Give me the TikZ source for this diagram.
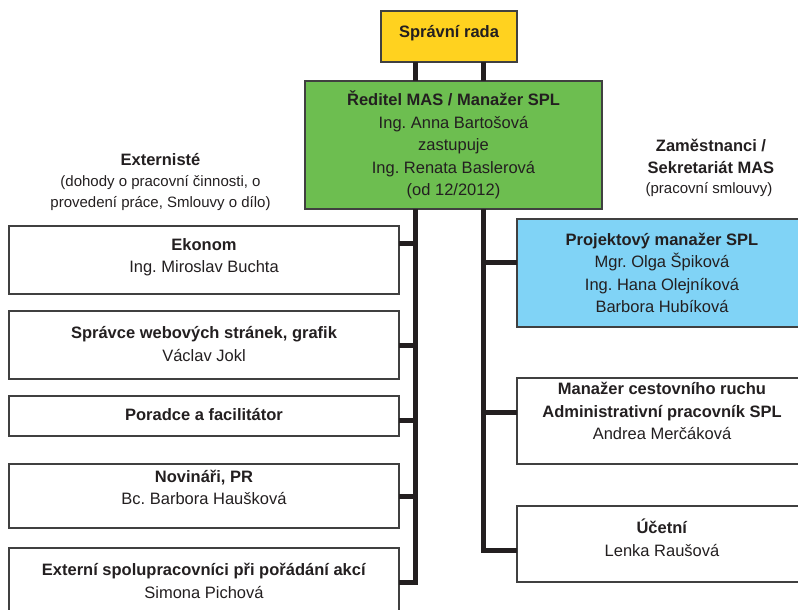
\documentclass[tikz,border=0pt]{standalone}
\usepackage{fontspec}
\setmainfont{Liberation Sans}
\frenchspacing
\definecolor{ink}{HTML}{231F20}
\definecolor{yel}{HTML}{FFD21F}
\definecolor{grn}{HTML}{6DBE50}
\definecolor{blu}{HTML}{80D3F6}
\definecolor{edge}{HTML}{404040}
\tikzset{
  box/.style={rectangle, draw=edge, line width=1.2pt, inner sep=0pt, outer sep=0pt, fill=white},
  conn/.style={draw=ink, line width=5pt, line join=miter},
  txt/.style={text=ink, align=center, inner sep=0pt, font=\fontsize{16.5}{22.5}\selectfont\frenchspacing},
  small/.style={text=ink, align=center, inner sep=0pt, font=\fontsize{15}{20.5}\selectfont\frenchspacing},
}
\begin{document}
\begin{tikzpicture}[x=1pt,y=-1pt]
\useasboundingbox (0,0) rectangle (798,610);
\clip (0,0) rectangle (798,610);
% boxes
\node[box, fill=yel, minimum width=136pt, minimum height=51pt] (sr) at (449,36.5) {};
\node[box, fill=grn, minimum width=297pt, minimum height=128pt] (gr) at (453.5,145) {};
\node[box, minimum width=390pt, minimum height=68pt] (ek) at (204,260) {};
\node[box, minimum width=390pt, minimum height=68pt] (sw) at (204,345) {};
\node[box, minimum width=390pt, minimum height=40pt] (po) at (204,416) {};
\node[box, minimum width=390pt, minimum height=64pt] (no) at (204,496) {};
\node[box, minimum width=390pt, minimum height=77pt] (ex) at (204,586.5) {};
\node[box, fill=blu, minimum width=290pt, minimum height=108pt] (pm) at (662,273) {};
\node[box, minimum width=290pt, minimum height=86pt] (mc) at (662,421) {};
\node[box, minimum width=290pt, minimum height=76pt] (uc) at (662,544) {};
% connector coordinates
\coordinate (lx) at (415.5,0);
\coordinate (rx) at (483.5,0);
\coordinate (lb) at (415.5,582);
\coordinate (rb) at (483.5,550);
\coordinate (yek) at (0,243.5);
\coordinate (ysw) at (0,345);
\coordinate (ypo) at (0,420.5);
\coordinate (yno) at (0,496.5);
\coordinate (ypm) at (0,262);
\coordinate (ymc) at (0,412.5);
% connectors
\draw[conn] (sr.south -| lx) -- (gr.north -| lx);
\draw[conn] (sr.south -| rx) -- (gr.north -| rx);
\draw[conn] (gr.south -| lx) -- (lb) -- (ex.east |- lb);
\draw[conn] (gr.south -| rx) -- (rb) -- (uc.west |- rb);
\draw[conn] (ek.east |- yek) -- (lx |- yek);
\draw[conn] (sw.east |- ysw) -- (lx |- ysw);
\draw[conn] (po.east |- ypo) -- (lx |- ypo);
\draw[conn] (no.east |- yno) -- (lx |- yno);
\draw[conn] (pm.west |- ypm) -- (rx |- ypm);
\draw[conn] (mc.west |- ymc) -- (rx |- ymc);
% texts
\node[txt] (tsr) at (449,33) {\bfseries Správní rada};
\node[txt] (tgr) at (453.5,145) {\textbf{Ředitel MAS / Manažer SPL}\\Ing. Anna Bartošová\\zastupuje\\Ing. Renata Baslerová\\(od 12/2012)};
\node[txt] (hex) at (160.5,160) {\bfseries Externisté};
\node[small] (hex2) at (160.5,193) {(dohody o pracovní činnosti, o\\provedení práce, Smlouvy o dílo)};
\node[txt] (hzm) at (711,156.5) {\bfseries Zaměstnanci /\\\bfseries Sekretariát MAS};
\node[small] (hzm2) at (709,190) {(pracovní smlouvy)};
\node[txt] (tek) at (204,257) {\textbf{Ekonom}\\Ing. Miroslav Buchta};
\node[txt] (tsw) at (204,344) {\textbf{Správce webových stránek, grafik}\\Václav Jokl};
\node[txt] (tpo) at (204,415) {\textbf{Poradce a facilitátor}};
\node[txt] (tno) at (204,487.5) {\textbf{Novináři, PR}\\Bc. Barbora Haušková};
\node[txt] (tex) at (204,581) {\textbf{Externí spolupracovníci při pořádání akcí}\\Simona Pichová};
\node[txt] (tpm) at (662,273) {\textbf{Projektový manažer SPL}\\Mgr. Olga Špiková\\Ing. Hana Olejníková\\Barbora Hubíková};
\node[txt] (tmc) at (662,411) {\textbf{Manažer cestovního ruchu}\\\textbf{Administrativní pracovník SPL}\\Andrea Merčáková};
\node[txt] (tuc) at (662,538) {\textbf{Účetní}\\Lenka Raušová};
\end{tikzpicture}
\end{document}
